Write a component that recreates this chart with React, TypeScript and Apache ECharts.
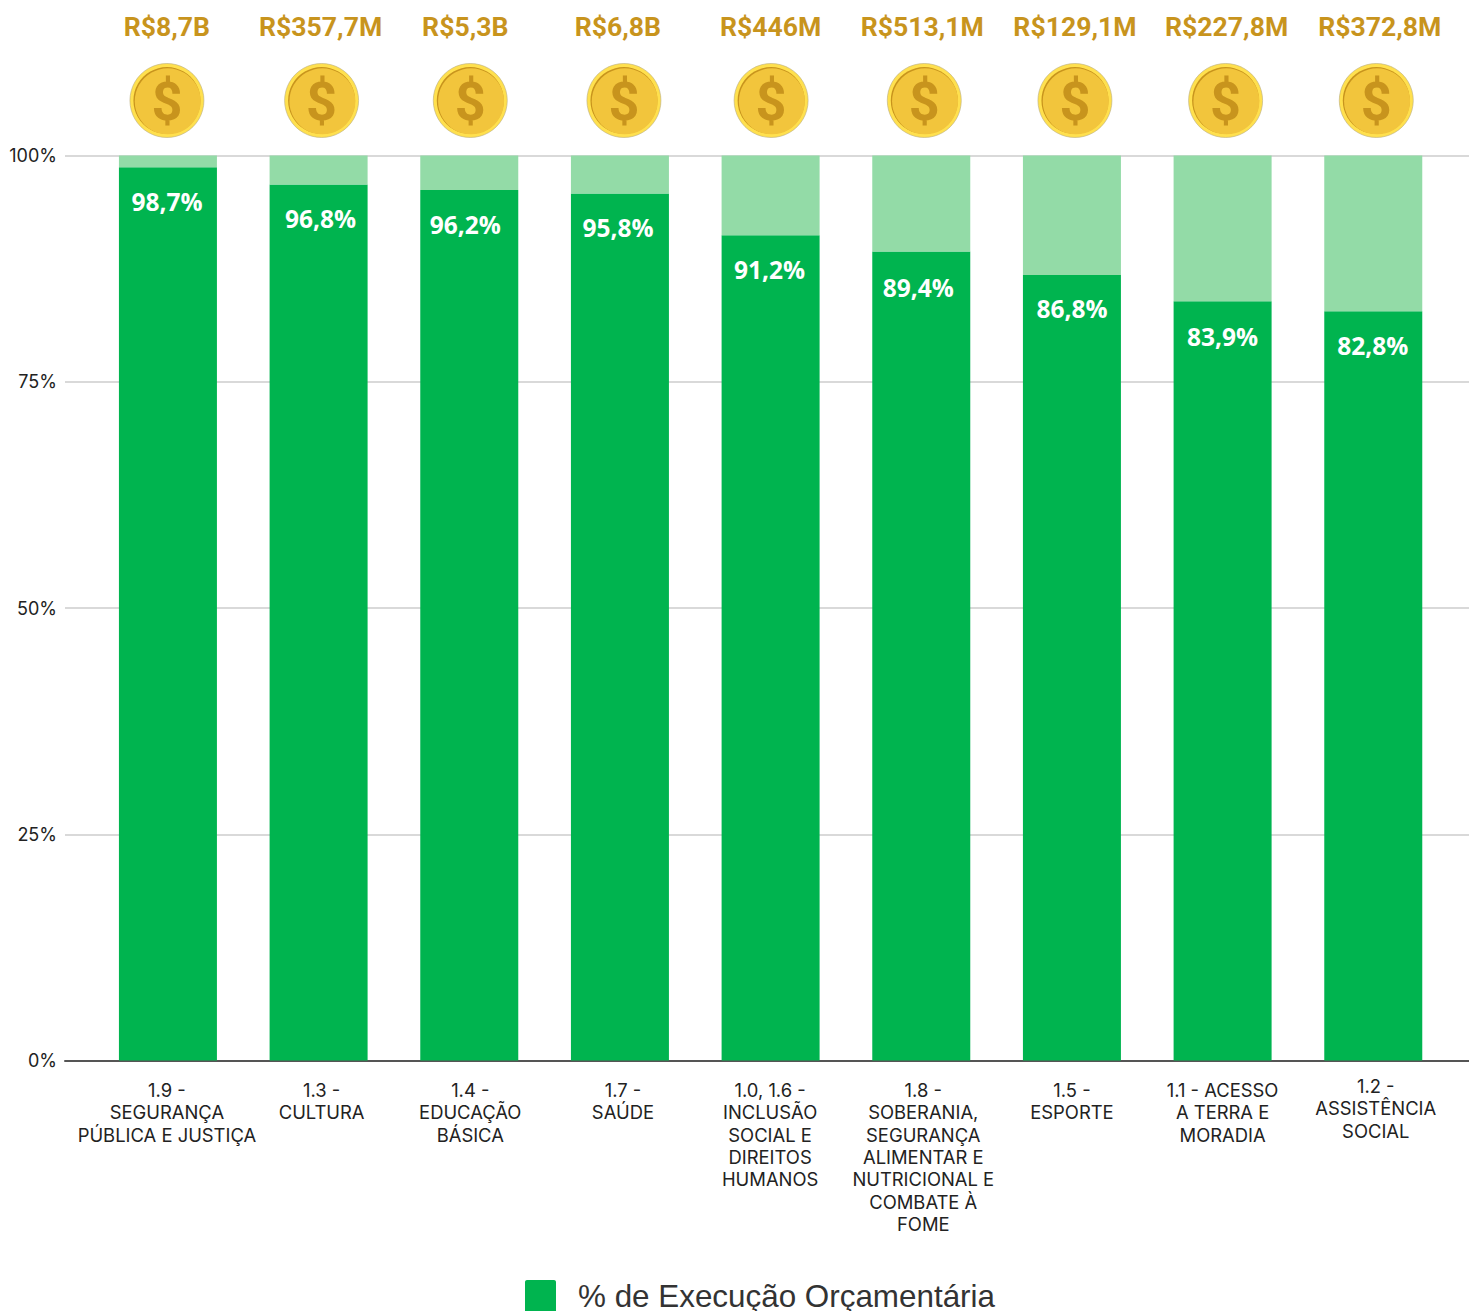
import React, { useEffect, useRef } from "react";
import * as echarts from "echarts";

const categories = [
  "1.9 -\nSEGURANÇA\nPÚBLICA E JUSTIÇA",
  "1.3 -\nCULTURA",
  "1.4 -\nEDUCAÇÃO\nBÁSICA",
  "1.7 -\nSAÚDE",
  "1.0, 1.6 -\nINCLUSÃO\nSOCIAL E\nDIREITOS\nHUMANOS",
  "1.8 -\nSOBERANIA,\nSEGURANÇA\nALIMENTAR E\nNUTRICIONAL E\nCOMBATE À\nFOME",
  "1.5 -\nESPORTE",
  "1.1 - ACESSO\nA TERRA E\nMORADIA",
  "1.2 -\nASSISTÊNCIA\nSOCIAL",
];
const execution = [98.7, 96.8, 96.2, 95.8, 91.2, 89.4, 86.8, 83.9, 82.8];
const executionLabels = ["98,7%", "96,8%", "96,2%", "95,8%", "91,2%", "89,4%", "86,8%", "83,9%", "82,8%"];
const remainder = [1.3, 3.2, 3.8, 4.2, 8.8, 10.6, 13.2, 16.1, 17.2];
const budgets = ["R$8,7B", "R$357,7M", "R$5,3B", "R$6,8B", "R$446M", "R$513,1M", "R$129,1M", "R$227,8M", "R$372,8M"];
const yTicks = [0, 25, 50, 75, 100];

// nudges of the hand-placed overlays of the original
const dataDx = [-1, 2, -4, -2, -1, -3, 0, 0, -0.5];
const dataDy = [1, 1, 1, 0, 1, 3, 0, 2, 1];
const coinDx = [-1, 3, 1, 4, 0.5, 3, 3, 3, 3];
const budgetDx = [-1, 2, -4, -2, 0, 1, 3, 4, 6.5];
const catDx = [-1, 3, 1, 3, -0.5, 2, 0, 0, 2.5];
const catDy = [4, 4, 4, 4, 4, 4, 4, 4, 0];

const LEGEND = "% de Execução Orçamentária";
const LEGEND_ICON = "path://M2,0H30C31,0 32,1 32,2V32C32,33 31,34 30,34H2C1,34 0,33 0,32V2C0,1 1,0 2,0Z";

export default function App() {
  const ref = useRef<HTMLDivElement>(null);
  useEffect(() => {
    document.body.style.margin = "0";
    const chart = echarts.init(ref.current!, null, { renderer: "svg" });
    const top = 155.5;
    const height = 905;
    chart.setOption({
      animation: false,
      backgroundColor: "#ffffff",
      grid: [
        { left: 65, right: 0, top, height },
        { left: 92.6, width: 1356, top, height },
      ],
      legend: {
        data: [{ name: LEGEND, icon: LEGEND_ICON }],
        left: 525,
        top: 1280,
        padding: 0,
        itemWidth: 31,
        itemHeight: 34,
        itemGap: 0,
        textStyle: { fontFamily: "Liberation Sans", fontSize: 31.4, color: "#333333", padding: [0, 0, 4, 17] },
        selectedMode: false,
      },
      xAxis: [
        {
          type: "value",
          gridIndex: 0,
          min: 0,
          max: 1,
          axisLine: { show: true, lineStyle: { color: "#555555", width: 2 } },
          axisTick: { show: false },
          axisLabel: { show: false },
          splitLine: { show: false },
        },
        {
          type: "category",
          gridIndex: 1,
          data: categories.map((value, i) => ({
            value,
            textStyle: {
              padding: [catDy[i], catDx[i] < 0 ? -2 * catDx[i] : 0, 0, catDx[i] > 0 ? 2 * catDx[i] : 0],
            },
          })),
          axisLine: { show: false },
          axisTick: { show: false },
          axisLabel: {
            interval: 0,
            margin: 14,
            fontFamily: "Inter",
            fontSize: 18.4,
            lineHeight: 22.4,
            color: "#222222",
            verticalAlign: "top",
          },
        },
      ],
      yAxis: [
        {
          type: "value",
          gridIndex: 0,
          min: 0,
          max: 100,
          interval: 25,
          axisLine: { show: false },
          axisTick: { show: false },
          axisLabel: {
            margin: 8,
            fontFamily: "Inter",
            fontSize: 18,
            color: "#222222",
            padding: [0, 0, 3, 0],
            formatter: (v: number) => (yTicks.includes(v) ? `${v}%` : ""),
          },
          splitLine: { lineStyle: { color: "#cccccc", width: 1.5 } },
        },
        { type: "value", gridIndex: 1, min: 0, max: 100, interval: 25, show: false },
      ],
      series: [
        {
          name: LEGEND,
          type: "bar",
          xAxisIndex: 1,
          yAxisIndex: 1,
          stack: "total",
          barWidth: 98,
          data: execution.map((value, i) => ({
            value,
            label: {
              show: true,
              position: "insideTop",
              distance: 0,
              offset: [dataDx[i], 21 + dataDy[i]],
              formatter: executionLabels[i],
              fontFamily: "Open Sans",
              fontWeight: 700,
              fontSize: 24.5,
              color: "#ffffff",
            },
          })),
          itemStyle: { color: "#00B44F" },
        },
        {
          name: "restante",
          type: "bar",
          xAxisIndex: 1,
          yAxisIndex: 1,
          stack: "total",
          barWidth: 98,
          data: remainder,
          itemStyle: { color: "#93DBA7" },
        },
        {
          name: "moedas",
          type: "custom",
          xAxisIndex: 1,
          yAxisIndex: 1,
          data: budgets.map((b, i) => [i, 100, b]),
          z: 10,
          renderItem: (params: any, api: any) => {
            const i = api.value(0);
            const [cx, cy] = api.coord([i, 100]);
            const x = cx + coinDx[i];
            const y = cy - 55;
            return {
              type: "group",
              children: [
                { type: "circle", shape: { cx: x, cy: y, r: 37 }, style: { fill: "#FFE04E", stroke: "#b9ac80", lineWidth: 0.6 } },
                { type: "circle", shape: { cx: x, cy: y, r: 33.5 }, style: { fill: "#C8941D" } },
                { type: "circle", shape: { cx: x + 0.8, cy: y + 0.8, r: 33 }, style: { fill: "#F2C53C" } },
                {
                  type: "text",
                  style: {
                    x,
                    y: y + 1,
                    text: "$",
                    fontFamily: "Roboto",
                    fontWeight: 700,
                    fontSize: 54,
                    fill: "#C8941D",
                    align: "center",
                    verticalAlign: "middle",
                  },
                },
                {
                  type: "text",
                  style: {
                    x: cx + budgetDx[i],
                    y: cy - 129,
                    text: budgets[i],
                    fontFamily: "Roboto",
                    fontWeight: 700,
                    fontSize: 26.6,
                    fill: "#C8941D",
                    align: "center",
                    verticalAlign: "middle",
                  },
                },
              ],
            };
          },
        },
      ],
    });
    return () => chart.dispose();
  }, []);
  return <div ref={ref} style={{ position: "absolute", left: 0, top: 0, width: 1469, height: 1311 }} />;
}
